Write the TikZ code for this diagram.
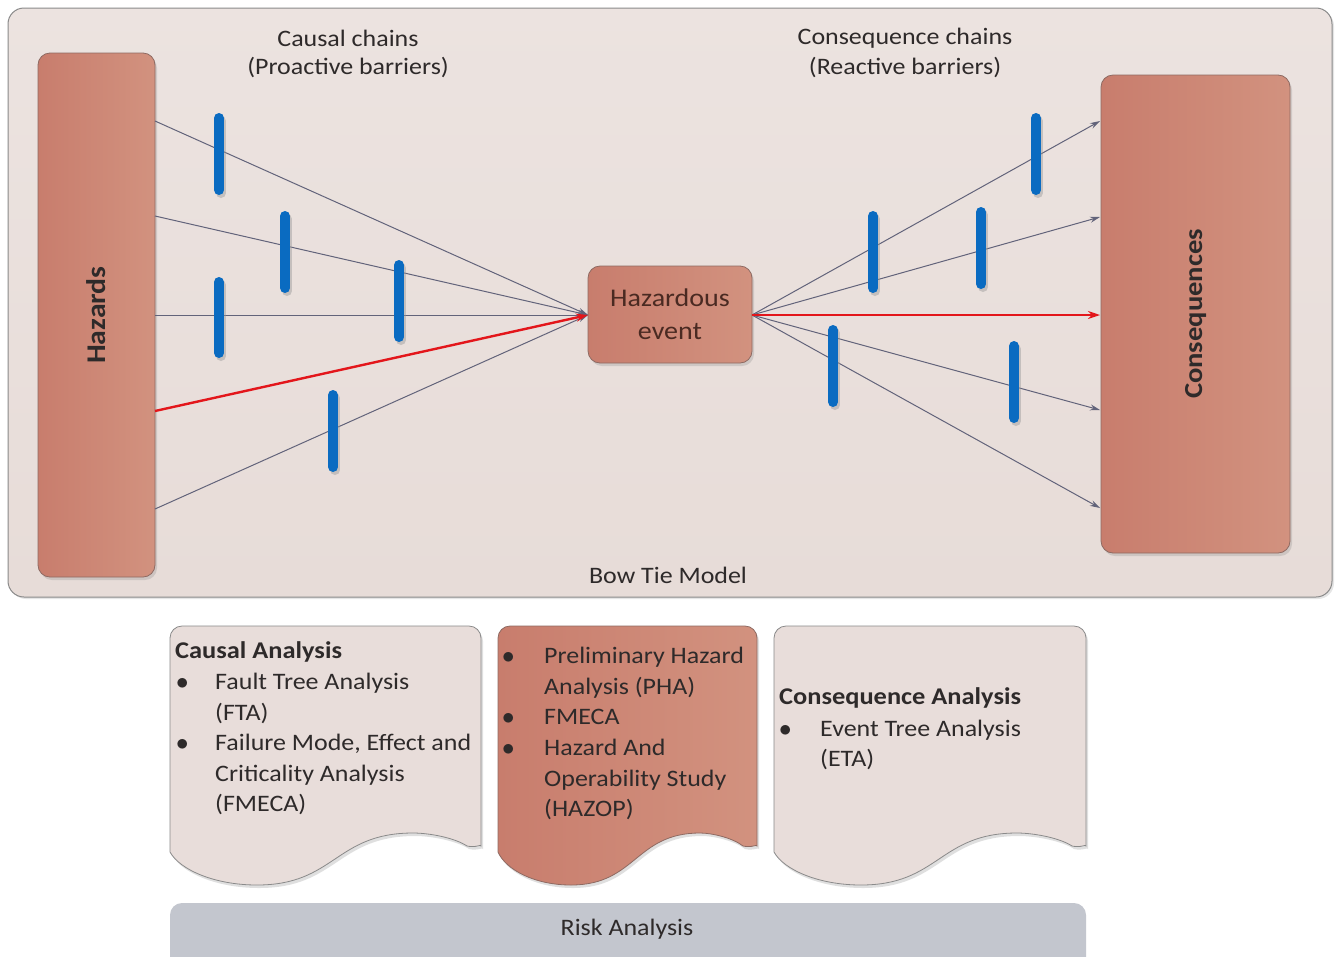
\documentclass[tikz,border=0pt]{standalone}
\usepackage{fontspec}
\setmainfont{Carlito}[FakeStretch=1.1]
\usetikzlibrary{arrows.meta,shadows}
\definecolor{framefill}{HTML}{E7DCD8}
\definecolor{frameline}{HTML}{8A8A8A}
\definecolor{terraL}{HTML}{C87D6D}
\definecolor{terraR}{HTML}{D2927F}
\definecolor{terraline}{HTML}{8E6A62}
\definecolor{barrier}{HTML}{0A6BC1}
\definecolor{chain}{HTML}{62637A}
\definecolor{redchain}{HTML}{E3161B}
\definecolor{txt}{HTML}{2E2A2A}
\definecolor{riskfill}{HTML}{C3C6CE}
\definecolor{docfill}{HTML}{E8DDDA}
\definecolor{evtxt}{HTML}{4A2A22}
\newcommand\fs{\fontsize{23.6}{28}\selectfont}
\tikzset{
  x=1pt, y=-1pt,
  every node/.style={font=\fs, text=txt, inner sep=0pt},
  terrabox/.style={draw=terraline, line width=0.8pt, rounded corners=12pt, left color=terraL, right color=terraR, drop shadow={opacity=0.25, shadow xshift=2pt, shadow yshift=-3pt}},
  barrierbar/.style={draw=barrier, line width=10pt, line cap=round},
  barriershadow/.style={draw=black!40, opacity=0.45, line width=10pt, line cap=round},
  chainline/.style={draw=chain, line width=1pt, -{Stealth[length=10pt,width=6pt]}},
  redline/.style={draw=redchain, line width=2.4pt, -{Stealth[length=12pt,width=8pt]}},
  docbox/.style={draw=frameline, line width=0.8pt, drop shadow={opacity=0.25, shadow xshift=2pt, shadow yshift=-3pt}},
  lbl/.style={anchor=base west},
  boldlbl/.style={anchor=base west, font=\fontsize{24}{28}\selectfont\bfseries},
}
\begin{document}
\begin{tikzpicture}
\useasboundingbox (0,0) rectangle (1337,956);
\fill[white] (0,0) rectangle (1337,956);
% frame
\path[draw=frameline, line width=1pt, rounded corners=16pt, top color=framefill!80!white, bottom color=framefill, drop shadow={opacity=0.2, shadow xshift=2pt, shadow yshift=-2pt}] (8,8) rectangle (1332,597);
\node (cc1) at (348,38) {Causal chains};
\node (cc2) at (348,68) {(Proactive barriers)};
\node (qc1) at (905,38) {Consequence chains};
\node (qc2) at (905,68) {(Reactive barriers)};
\node (btm) at (668,575) {Bow Tie Model};
% boxes
\node[terrabox, minimum width=117pt, minimum height=524pt] (H) at (96.5,315) {};
\node[rotate=90, font=\fontsize{27}{30}\selectfont\bfseries] (Ht) at (H.center) {Hazards};
\node[terrabox, minimum width=189pt, minimum height=478pt] (C) at (1195.5,314) {};
\node[rotate=90, font=\fontsize{26}{30}\selectfont\bfseries] (Ct) at (C.center) {Consequences};
\node[terrabox, minimum width=164pt, minimum height=97pt, align=center, text=evtxt, font=\fontsize{25.5}{33}\selectfont] (E) at (670,314.5) {Hazardous\\event};
% coordinates
\coordinate (h1) at (155,121);
\coordinate (h2) at (155,216);
\coordinate (h3) at (155,315);
\coordinate (h4) at (155,411);
\coordinate (h5) at (155,509);
\coordinate (el) at (588,315);
\coordinate (er) at (752,315);
\coordinate (c1) at (1100,121);
\coordinate (c2) at (1100,217);
\coordinate (c3) at (1100,315);
\coordinate (c4) at (1100,410);
\coordinate (c5) at (1100,508);
% chains
\draw[chainline] (h1) -- (el);
\draw[chainline] (h2) -- (el);
\draw[chainline] (h3) -- (el);
\draw[chainline] (h5) -- (el);
\draw[redline] (h4) -- (el);
\draw[chainline] (er) -- (c1);
\draw[chainline] (er) -- (c2);
\draw[chainline] (er) -- (c4);
\draw[chainline] (er) -- (c5);
\draw[redline] (er) -- (c3);
% barriers
\foreach \bx/\ya/\yb in {219/118/190, 285/216/288, 219/282/353, 399/265/337, 333/395/467, 1036/118/190, 873/216/288, 981/212/284, 833/330/402, 1014/346/418}{
  \draw[barriershadow] (\bx+2,\ya+3) -- (\bx+2,\yb+3);
  \draw[barrierbar] (\bx,\ya) -- (\bx,\yb);
}
% documents
\path[docbox, fill=docfill] (170,852) [rounded corners=12pt] -- (170,626) -- (481,626) -- (481,834) [sharp corners] .. controls (481,844) and (476,848) .. (467,846) .. controls (455,838) and (430,833) .. (413,833) .. controls (335,833) and (335,885) .. (257,885) .. controls (215,885) and (180,870) .. (170,852) -- cycle;
\path[docbox, draw=terraline, left color=terraL, right color=terraR] (498,852) [rounded corners=12pt] -- (498,626) -- (757,626) -- (757,834) [sharp corners] .. controls (757,844) and (752,848) .. (743,846) .. controls (733,838) and (712,833) .. (700,833) .. controls (635,833) and (636,885) .. (571,885) .. controls (535,885) and (506,870) .. (498,852) -- cycle;
\path[docbox, fill=docfill] (774,852) [rounded corners=12pt] -- (774,626) -- (1086,626) -- (1086,834) [sharp corners] .. controls (1086,844) and (1081,848) .. (1072,846) .. controls (1060,838) and (1034,833) .. (1017,833) .. controls (939,833) and (939,885) .. (861,885) .. controls (819,885) and (784,870) .. (774,852) -- cycle;
% doc 1 text
\node[boldlbl] (d1t) at (175,658) {Causal Analysis};
\node[lbl] (d1b1) at (176,689) {$\bullet$};
\node[lbl] (d1a) at (215,689) {Fault Tree Analysis};
\node[lbl] (d1b) at (215,720) {(FTA)};
\node[lbl] (d1b2) at (176,750) {$\bullet$};
\node[lbl] (d1c) at (215,750) {Failure Mode, Effect and};
\node[lbl] (d1d) at (215,781) {Criticality Analysis};
\node[lbl] (d1e) at (215,811) {(FMECA)};
% doc 2 text
\node[lbl] (d2b1) at (502,663) {$\bullet$};
\node[lbl] (d2a) at (544,663) {Preliminary Hazard};
\node[lbl] (d2b) at (544,694) {Analysis (PHA)};
\node[lbl] (d2b2) at (502,724) {$\bullet$};
\node[lbl] (d2c) at (544,724) {FMECA};
\node[lbl] (d2b3) at (502,755) {$\bullet$};
\node[lbl] (d2d) at (544,755) {Hazard And};
\node[lbl] (d2e) at (544,786) {Operability Study};
\node[lbl] (d2f) at (544,816) {(HAZOP)};
% doc 3 text
\node[boldlbl] (d3t) at (779,704) {Consequence Analysis};
\node[lbl] (d3b1) at (779,736) {$\bullet$};
\node[lbl] (d3a) at (820,736) {Event Tree Analysis};
\node[lbl] (d3b) at (820,766) {(ETA)};
% risk bar
\path[fill=riskfill, rounded corners=12pt] (170,903) rectangle (1086,975);
\node (ra) at (627,929) {Risk Analysis};
\end{tikzpicture}
\end{document}
